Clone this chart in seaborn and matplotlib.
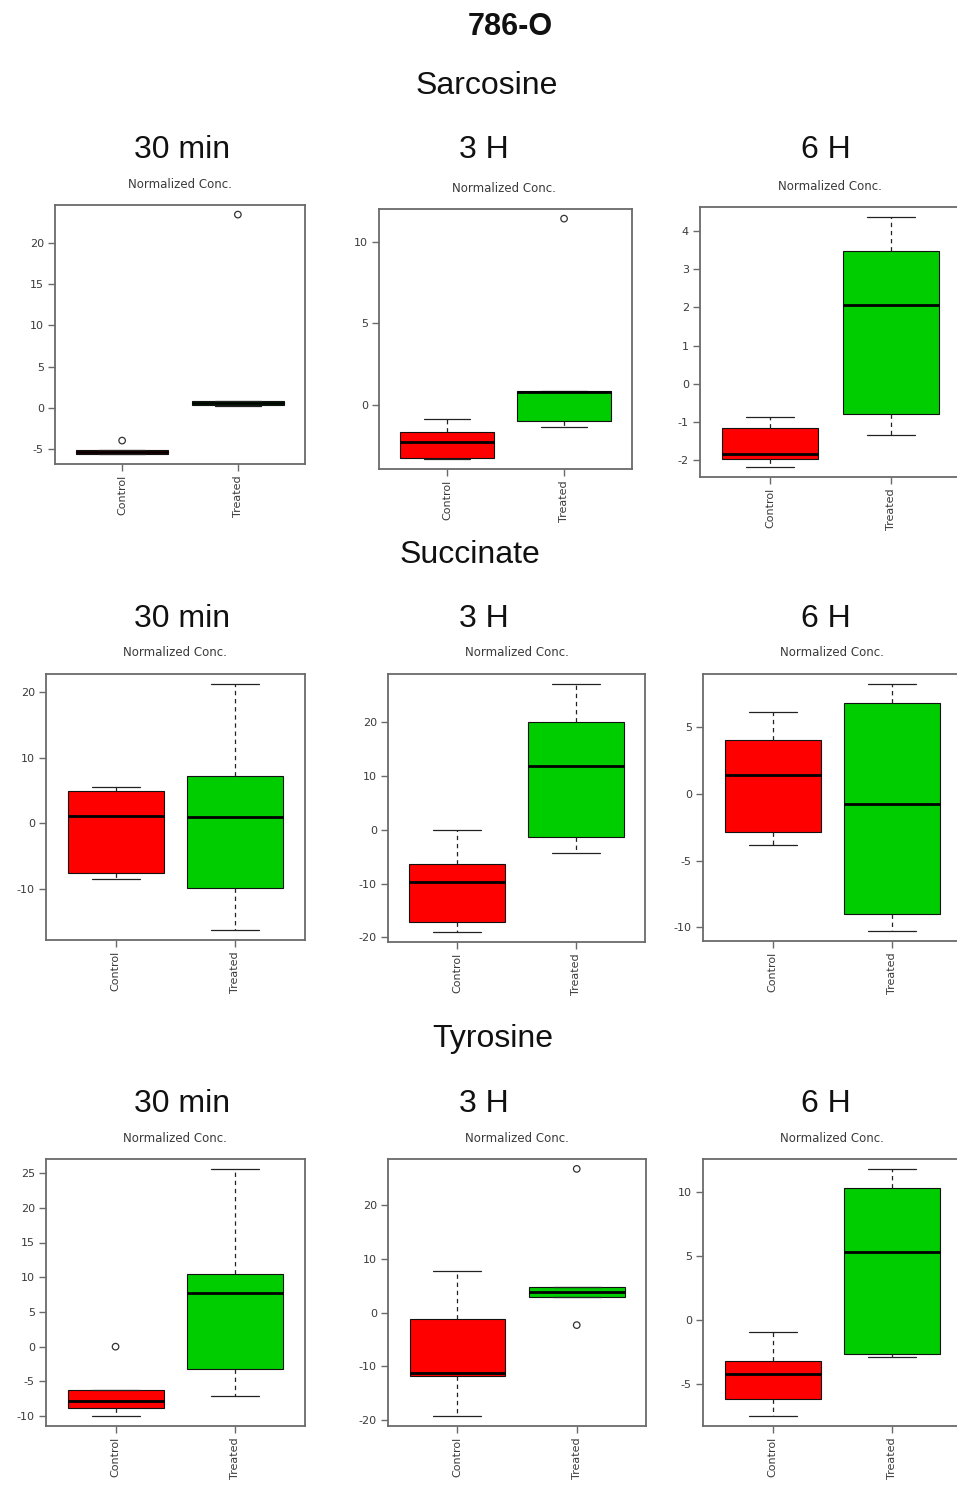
import numpy as np
import pandas as pd
import matplotlib
matplotlib.use("Agg")
import matplotlib.pyplot as plt
from matplotlib.ticker import MultipleLocator
import seaborn as sns

sns.set_style("white")
plt.rcParams["font.family"] = ["Liberation Sans", "DejaVu Sans"]
plt.rcParams["axes.unicode_minus"] = False

cell_line = "786-O"
metabolites = ["Sarcosine", "Succinate", "Tyrosine"]
timepoints = ["30 min", "3 H", "6 H"]
groups = ["Control", "Treated"]
group_colors = ["#FF0000", "#00CD00"]

# Five-number summaries (lower whisker, Q1, median, Q3, upper whisker),
# one entry per time point: 30 min, 3 H, 6 H
sarcosine_control = [[-5.60, -5.55, -5.35, -5.03, -5.03],
                     [-3.30, -3.19, -2.24, -1.63, -0.81],
                     [-2.18, -1.97, -1.83, -1.16, -0.88]]
sarcosine_treated = [[0.28, 0.40, 0.65, 0.85, 0.85],
                     [-1.30, -0.96, 0.80, 0.88, 0.88],
                     [-1.35, -0.79, 2.07, 3.49, 4.37]]
succinate_control = [[-8.47, -7.60, 1.16, 4.95, 5.56],
                     [-19.0, -17.1, -9.70, -6.40, 0.00],
                     [-3.86, -2.88, 1.43, 4.06, 6.19]]
succinate_treated = [[-16.3, -9.88, 0.91, 7.23, 21.3],
                     [-4.40, -1.30, 11.75, 19.96, 27.0],
                     [-10.3, -9.05, -0.75, 6.82, 8.27]]
tyrosine_control = [[-10.0, -8.90, -7.79, -6.25, -6.25],
                    [-19.25, -11.8, -11.2, -1.18, 7.80],
                    [-7.50, -6.20, -4.20, -3.20, -0.97]]
tyrosine_treated = [[-7.10, -3.20, 7.70, 10.45, 25.6],
                    [3.00, 3.00, 3.93, 4.75, 4.75],
                    [-2.87, -2.69, 5.32, 10.30, 11.80]]

# Outlying observations per time point
sarcosine_control_out = [[-3.93], [], []]
sarcosine_treated_out = [[23.4], [11.4], []]
succinate_control_out = [[], [], []]
succinate_treated_out = [[], [], []]
tyrosine_control_out = [[0.0], [], []]
tyrosine_treated_out = [[], [26.8, -2.3], []]

summaries = {
    "Sarcosine": (sarcosine_control, sarcosine_treated, sarcosine_control_out, sarcosine_treated_out),
    "Succinate": (succinate_control, succinate_treated, succinate_control_out, succinate_treated_out),
    "Tyrosine": (tyrosine_control, tyrosine_treated, tyrosine_control_out, tyrosine_treated_out),
}

# tick spacing of the value axis for each panel
tick_steps = [[5, 5, 1], [10, 10, 5], [5, 10, 5]]

W, H = 957, 1488
fig = plt.figure(figsize=(W / 100, H / 100), dpi=100)

# panel frames in pixels: (left, top, right, bottom)
frames = [
    [(55, 205, 305, 464), (379, 209, 632, 469), (700, 207, 961, 477)],
    [(46, 674, 305, 940), (388, 674, 645, 942), (703, 674, 962, 941)],
    [(46, 1159, 305, 1426), (388, 1159, 646, 1426), (703, 1159, 962, 1426)],
]


def to_rect(f):
    x0, y0, x1, y1 = f
    return [x0 / W, 1 - y1 / H, (x1 - x0) / W, (y1 - y0) / H]


spine_col = "#6a6a6a"
text_col = "#3a3a3a"

for r, met in enumerate(metabolites):
    ctrl, trt, ctrl_out, trt_out = summaries[met]
    for c, tp in enumerate(timepoints):
        ax = fig.add_axes(to_rect(frames[r][c]))
        df = pd.DataFrame({
            "group": np.repeat(groups, 5),
            "value": list(ctrl[c]) + list(trt[c]),
        })
        sns.boxplot(
            data=df, x="group", y="value", hue="group", order=groups,
            hue_order=groups, palette=group_colors, saturation=1,
            width=0.8, whis=(0, 100), showfliers=False, legend=False,
            linecolor="#111111", linewidth=0.8, ax=ax,
            medianprops=dict(color="black", linewidth=2.0, solid_capstyle="butt"),
            whiskerprops=dict(linestyle=(0, (3.5, 3)), color="#222222", linewidth=0.9),
            capprops=dict(color="#222222", linewidth=0.9),
        )
        out_x, out_y = [], []
        for gi, vals in enumerate([ctrl_out[c], trt_out[c]]):
            for v in vals:
                out_x.append(gi)
                out_y.append(v)
        if out_y:
            sns.scatterplot(x=out_x, y=out_y, ax=ax, marker="o", s=22,
                            facecolor="none", edgecolor="#333333",
                            linewidth=0.9, legend=False, zorder=5)

        allv = list(ctrl[c]) + list(trt[c]) + ctrl_out[c] + trt_out[c]
        lo, hi = min(allv), max(allv)
        pad = 0.04 * (hi - lo)
        ax.set_ylim(lo - pad, hi + pad)
        ax.set_xlim(-0.58, 1.58)
        ax.yaxis.set_major_locator(MultipleLocator(tick_steps[r][c]))
        ax.set_xticks([0, 1])
        ax.set_xticklabels(groups, rotation=90)
        ax.set_xlabel("")
        ax.set_ylabel("")
        ax.tick_params(axis="both", direction="out", length=5, width=1,
                       color=spine_col, labelsize=8, labelcolor=text_col,
                       pad=3, left=True, bottom=True)
        for lab in ax.get_xticklabels() + ax.get_yticklabels():
            lab.set_fontfamily("DejaVu Sans")
        for sp in ax.spines.values():
            sp.set_visible(True)
            sp.set_color(spine_col)
            sp.set_linewidth(1.3)
        ax.grid(False)


def put(x, y, s, **kw):
    fig.text(x / W, 1 - y / H, s, **kw)


put(510, 35, cell_line, ha="center", va="baseline", fontsize=22,
    fontweight="bold", color="#111111")

met_pos = [(487, 94), (470, 563), (493, 1047)]
for (x, y), met in zip(met_pos, metabolites):
    put(x, y, met, ha="center", va="baseline", fontsize=23, color="#111111")

time_x = [182, 484, 826]
time_y = [158, 627, 1112]
for ty in time_y:
    for tx, tp in zip(time_x, timepoints):
        put(tx, ty, tp, ha="center", va="baseline", fontsize=23, color="#111111")

norm_pos = [
    [(180, 184), (504, 188), (830, 186)],
    [(175, 653), (517, 653), (832, 653)],
    [(175, 1138), (517, 1138), (832, 1138)],
]
for row in norm_pos:
    for x, y in row:
        put(x, y, "Normalized Conc.", ha="center", va="center", fontsize=8.5,
            color=text_col, family="DejaVu Sans")

fig.savefig("out.png", dpi=100)
